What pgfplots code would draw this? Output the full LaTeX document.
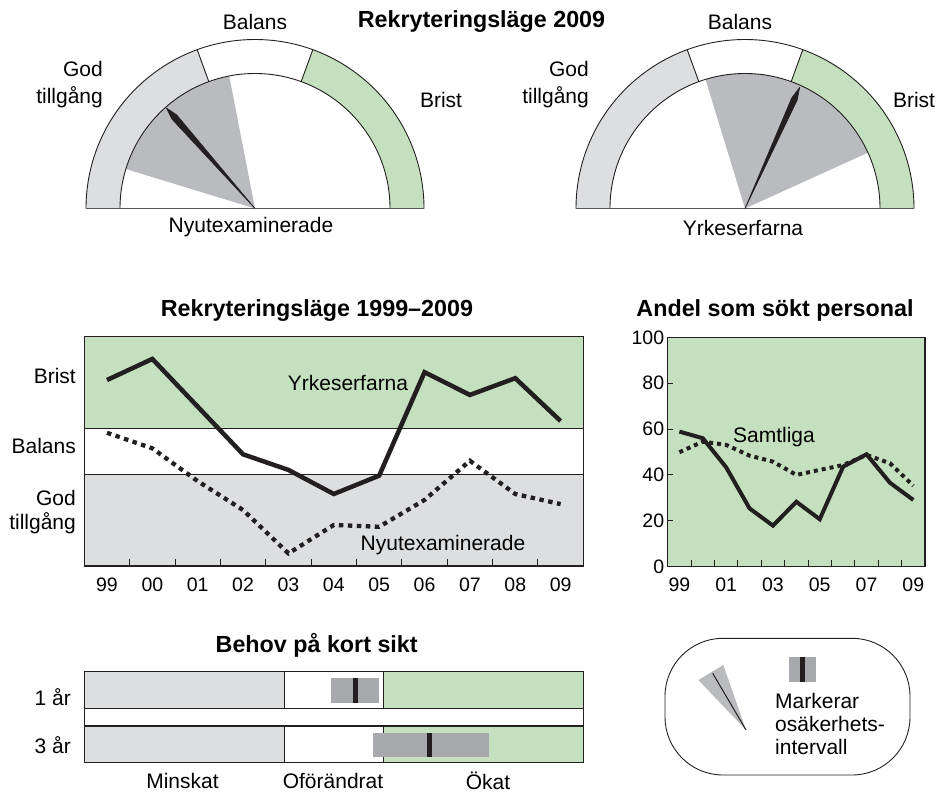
\documentclass[border=0pt]{standalone}
\usepackage{fontspec}
\setmainfont{Liberation Sans}
\usepackage{pgfplots}
\pgfplotsset{compat=1.18}
\definecolor{bgreen}{RGB}{197,224,190}
\definecolor{ggray}{RGB}{221,222,224}
\definecolor{sgray}{RGB}{186,187,191}
\definecolor{bgray}{RGB}{168,169,172}
\definecolor{ink}{RGB}{35,31,32}
\newcommand{\bodyfont}{\fontsize{21}{25}\selectfont}
\newcommand{\titlefont}{\fontsize{23.3}{27}\selectfont\bfseries}
\newcommand{\tickfont}{\fontsize{19.5}{23}\selectfont}
\newcommand{\ringseg}[4]{\fill[#4] ([shift={(#2:169pt)}]#1) arc[start angle=#2, end angle=#3, radius=169pt] -- ([shift={(#3:135pt)}]#1) arc[start angle=#3, end angle=#2, radius=135pt] -- cycle;}
\newcommand{\ringlines}[1]{%
  \draw[ink, line width=0.9pt] ([shift={(180:169pt)}]#1) arc[start angle=180, end angle=0, radius=169pt];
  \draw[ink, line width=0.9pt] ([shift={(180:135pt)}]#1) arc[start angle=180, end angle=0, radius=135pt];
  \draw[ink, line width=0.9pt] ([shift={(110:135pt)}]#1) -- ([shift={(110:169pt)}]#1);
  \draw[ink, line width=0.9pt] ([shift={(70:135pt)}]#1) -- ([shift={(70:169pt)}]#1);
  \draw[black!65, line width=1.3pt] ([shift={(180:169pt)}]#1) -- ([shift={(0:169pt)}]#1);}

\begin{document}
\begin{tikzpicture}
\useasboundingbox (0,0) rectangle (937pt,793pt);

% ---------------- Rekryteringsläge 1999-2009 ----------------
\begin{axis}[
  at={(84.3pt,227pt)}, anchor=south west, scale only axis,
  width=499pt, height=229.3pt,
  xmin=-0.5, xmax=10.5, ymin=0, ymax=100,
  axis on top,
  axis line style={ink, line width=1.3pt},
  xtick={0,...,10},
  xticklabels={99,00,01,02,03,04,05,06,07,08,09},
  ytick=\empty,
  minor xtick={0.5,1.5,...,9.5},
  tick pos=left, tick align=inside,
  major x tick style={draw=none},
  minor tick length=7pt,
  minor x tick style={ink, line width=0.9pt},
  x tick label style={font=\tickfont, yshift=-8pt},
  /pgf/number format/assume math mode=true,
]
\addplot[fill=bgreen, draw=none] coordinates {(-0.5,60) (10.5,60) (10.5,100) (-0.5,100)} -- cycle;
\addplot[fill=ggray, draw=none] coordinates {(-0.5,0) (10.5,0) (10.5,40) (-0.5,40)} -- cycle;
\addplot[ink, line width=0.8pt] coordinates {(-0.5,60) (10.5,60)};
\addplot[ink, line width=0.8pt] coordinates {(-0.5,40) (10.5,40)};
% Nyutexaminerade
\addplot[ink, line width=4.3pt, dash pattern=on 4.5pt off 4.5pt] coordinates {
 (0,58.1) (1,51.3) (2,37.0) (3,24.4) (4,5.5) (5,17.9) (6,17.1) (7,28.8) (8,45.9) (9,31.4) (10,27.0)};
% Yrkeserfarna
\addplot[ink, line width=4.5pt] coordinates {
 (0,81.1) (1,90.3) (2,69.5) (3,48.7) (4,41.9) (5,31.4) (6,39.4) (7,84.5) (8,74.6) (9,81.9) (10,63.2)};
\end{axis}

% ---------------- Andel som sökt personal ----------------
\begin{axis}[
  at={(667.7pt,226.3pt)}, anchor=south west, scale only axis,
  width=257.3pt, height=229.4pt,
  xmin=-0.5, xmax=10.5, ymin=0, ymax=100,
  axis background/.style={fill=bgreen},
  axis on top,
  axis line style={ink, line width=1.3pt},
  xtick={0,2,...,10},
  xticklabels={99,01,03,05,07,09},
  minor xtick={0.5,1.5,...,9.5},
  ytick={0,20,...,100},
  tick pos=left, tick align=inside,
  major tick length=5pt,
  major x tick style={draw=none},
  major y tick style={ink, line width=0.9pt},
  minor tick length=7pt,
  minor x tick style={ink, line width=0.9pt},
  x tick label style={font=\tickfont, yshift=-8pt},
  y tick label style={font=\tickfont},
  /pgf/number format/assume math mode=true,
]
% Samtliga
\addplot[ink, line width=4pt, dash pattern=on 4pt off 4pt] coordinates {
 (0,49.9) (1,54.5) (2,53.1) (3,48.4) (4,45.8) (5,40.0) (6,42.2) (7,44.3) (8,48.7) (9,45.1) (10,35.3)};
\addplot[ink, line width=4pt] coordinates {
 (0,58.9) (1,56.0) (2,43.3) (3,25.4) (4,17.9) (5,28.3) (6,20.7) (7,43.6) (8,49.0) (9,36.6) (10,29.1)};
\end{axis}

% ---------------- Behov på kort sikt ----------------
\begin{axis}[
  at={(84.3pt,30.7pt)}, anchor=south west, scale only axis,
  width=499pt, height=90.6pt,
  xmin=-2.5, xmax=2.5, ymin=0, ymax=90.6,
  axis on top,
  axis line style={ink, line width=1.3pt},
  xtick=\empty, ytick=\empty,
]
% rows
\addplot[fill=ggray, draw=none] coordinates {(-2.5,54) (-0.5,54) (-0.5,90.6) (-2.5,90.6)} -- cycle;
\addplot[fill=bgreen, draw=none] coordinates {(0.5,54) (2.5,54) (2.5,90.6) (0.5,90.6)} -- cycle;
\addplot[fill=ggray, draw=none] coordinates {(-2.5,0) (-0.5,0) (-0.5,36.3) (-2.5,36.3)} -- cycle;
\addplot[fill=bgreen, draw=none] coordinates {(0.5,0) (2.5,0) (2.5,36.3) (0.5,36.3)} -- cycle;
\addplot[ink, line width=0.6pt] coordinates {(-0.5,54) (-0.5,90.6)};
\addplot[ink, line width=0.6pt] coordinates {(0.5,54) (0.5,90.6)};
\addplot[ink, line width=0.6pt] coordinates {(-0.5,0) (-0.5,36.3)};
\addplot[ink, line width=0.6pt] coordinates {(0.5,0) (0.5,36.3)};
\addplot[ink, line width=1.3pt] coordinates {(-2.5,54) (2.5,54)};
\addplot[ink, line width=1.3pt] coordinates {(-2.5,36.3) (2.5,36.3)};
% 1 år: interval and estimate
\addplot[fill=bgray, draw=none] coordinates {(-0.028,59) (0.453,59) (0.453,84) (-0.028,84)} -- cycle;
\addplot[fill=ink, draw=none] coordinates {(0.197,59) (0.247,59) (0.247,84) (0.197,84)} -- cycle;
% 3 år: interval and estimate
\addplot[fill=bgray, draw=none] coordinates {(0.396,5.6) (1.555,5.6) (1.555,29.6) (0.396,29.6)} -- cycle;
\addplot[fill=ink, draw=none] coordinates {(0.932,5.6) (0.982,5.6) (0.982,29.6) (0.932,29.6)} -- cycle;
\end{axis}

% ---------------- canvas: gauges, legend, texts ----------------
\begin{axis}[
  at={(0pt,0pt)}, anchor=south west,
  x=1pt, y=1pt, xmin=0, xmax=937, ymin=0, ymax=793, y dir=reverse,
  hide axis, clip=false,
]
\coordinate (LC) at (axis cs:255,208.5);
\coordinate (RC) at (axis cs:745,208.5);
\ringseg{LC}{180}{110}{ggray}
\ringseg{LC}{70}{0}{bgreen}
\ringseg{RC}{180}{110}{ggray}
\ringseg{RC}{70}{0}{bgreen}
% uncertainty sectors
\addplot[fill=sgray, draw=none] coordinates {(255,208.5) (125.9,169.0)} arc[start angle=163, end angle=101, radius=135pt] -- cycle;
\addplot[fill=sgray, draw=none] coordinates {(745,208.5) (867.9,152.7)} arc[start angle=24.4, end angle=107, radius=135pt] -- cycle;
\ringlines{LC}
\ringlines{RC}
% needles
\addplot[fill=ink, draw=ink, line width=0.6pt, line join=round] coordinates {(255,208.5) (171.9,119.1) (166.4,108.0) (176.7,114.9)} -- cycle;
\addplot[fill=ink, draw=ink, line width=0.6pt, line join=round] coordinates {(745,208.5) (797.1,100.3) (799.7,87.3) (791.7,97.9)} -- cycle;
% legend
\draw[ink, line width=0.9pt, rounded corners=58pt] (axis cs:665,638.3) rectangle (axis cs:910,775);
\addplot[fill=sgray, draw=none] coordinates {(698.3,680) (723.3,665) (746,730)} -- cycle;
\addplot[ink, line width=1pt] coordinates {(712.7,673.3) (746,730)};
\addplot[fill=bgray, draw=none] coordinates {(789.3,656.7) (815.7,656.7) (815.7,682.3) (789.3,682.3)} -- cycle;
\addplot[fill=ink, draw=none] coordinates {(800.2,656.7) (805.2,656.7) (805.2,682.3) (800.2,682.3)} -- cycle;
\node[font=\fontsize{21}{22.6}\selectfont, align=left, anchor=west, inner sep=0pt] at (axis cs:775,724) {Markerar\\osäkerhets-\\intervall};
% gauge texts
\node[font=\titlefont] at (axis cs:481.5,22) {Rekryteringsläge 2009};
\node[font=\bodyfont] at (axis cs:255,21.5) {Balans};
\node[font=\bodyfont] at (axis cs:740,22) {Balans};
\node[font=\fontsize{21}{27}\selectfont, align=right, anchor=east, inner sep=0pt] at (axis cs:103,85) {God\\tillgång};
\node[font=\fontsize{21}{27}\selectfont, align=right, anchor=east, inner sep=0pt] at (axis cs:589,85) {God\\tillgång};
\node[font=\bodyfont] at (axis cs:441,100) {Brist};
\node[font=\bodyfont] at (axis cs:914,100) {Brist};
\node[font=\bodyfont] at (axis cs:251,226.7) {Nyutexaminerade};
\node[font=\bodyfont] at (axis cs:743,227.7) {Yrkeserfarna};
% line chart texts
\node[font=\titlefont] at (axis cs:317,310.7) {Rekryteringsläge 1999–2009};
\node[font=\bodyfont, anchor=east, inner sep=0pt] at (axis cs:76,376) {Brist};
\node[font=\bodyfont, anchor=east, inner sep=0pt] at (axis cs:76,446) {Balans};
\node[font=\fontsize{21}{24.5}\selectfont, align=right, anchor=east, inner sep=0pt] at (axis cs:76,512) {God\\tillgång};
\node[font=\bodyfont] at (axis cs:348,383.3) {Yrkeserfarna};
\node[font=\bodyfont] at (axis cs:443,545) {Nyutexaminerade};
% right chart texts
\node[font=\titlefont] at (axis cs:775,310) {Andel som sökt personal};
\node[font=\bodyfont] at (axis cs:774,436.7) {Samtliga};
% Behov texts
\node[font=\titlefont] at (axis cs:316.7,645) {Behov på kort sikt};
\node[font=\bodyfont, anchor=east, inner sep=0pt] at (axis cs:71,696.7) {1 år};
\node[font=\bodyfont, anchor=east, inner sep=0pt] at (axis cs:71,745) {3 år};
\node[font=\bodyfont, inner sep=0pt] at (axis cs:182.5,781) {Minskat};
\node[font=\bodyfont, inner sep=0pt] at (axis cs:333,781) {Oförändrat};
\node[font=\bodyfont, inner sep=0pt] at (axis cs:488,781) {Ökat};
\end{axis}
\end{tikzpicture}
\end{document}
